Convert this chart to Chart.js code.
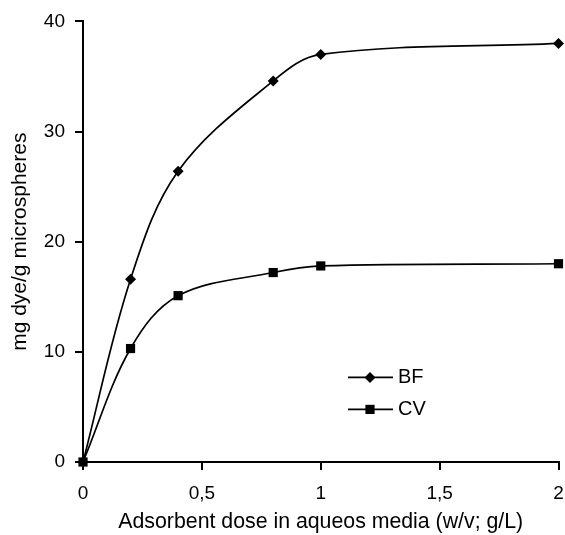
<!DOCTYPE html>
<html>
<head>
<meta charset="utf-8">
<script src="https://cdn.jsdelivr.net/npm/chart.js@4.4.1/dist/chart.umd.min.js"></script>
<style>
    html, body { margin: 0; padding: 0; background: #fff; }
    #wrap { width: 565px; height: 535px; }
</style>
</head>
<body>
<div id="wrap"><canvas id="myChart" width="565" height="535"></canvas></div>
<script>
// data
const doses = [0, 0.2, 0.4, 0.8, 1, 2]
const bfValues = [0, 16.6, 26.4, 34.6, 37.0, 38.0]
const cvValues = [0, 10.3, 15.1, 17.2, 17.8, 18.0]
const seriesNames = ['BF', 'CV']
const xTicks = [0, 0.5, 1, 1.5, 2]
const yTicks = [0, 10, 20, 30, 40]

const font = 'Liberation Sans, Arial, sans-serif'

function toPoints(xs, ys){
    return xs.map((x, i) => ({x: x, y: ys[i]}))
}

// line + marker legend inside the plot
const insideLegend = {
    id: 'insideLegend',
    afterDraw(chart){
        const ctx = chart.ctx
        const area = chart.chartArea
        const x0 = area.left + 265
        const rows = [area.top + 356, area.top + 388]
        ctx.save()
        chart.data.datasets.forEach((ds, i) => {
            const y = rows[i]
            ctx.strokeStyle = '#000'
            ctx.lineWidth = 1.7
            ctx.beginPath()
            ctx.moveTo(x0, y)
            ctx.lineTo(x0 + 45, y)
            ctx.stroke()
            ctx.fillStyle = '#000'
            ctx.beginPath()
            const cx = x0 + 22
            if (ds.pointStyle === 'rectRot') {
                const r = ds.pointRadius
                ctx.moveTo(cx - r, y)
                ctx.lineTo(cx, y - r)
                ctx.lineTo(cx + r, y)
                ctx.lineTo(cx, y + r)
                ctx.closePath()
            } else {
                const s = ds.pointRadius * Math.SQRT1_2
                ctx.rect(cx - s, y - s, 2 * s, 2 * s)
            }
            ctx.fill()
            ctx.font = '20px ' + font
            ctx.textBaseline = 'middle'
            ctx.textAlign = 'left'
            ctx.fillText(ds.label, x0 + 50, y)
        })
        ctx.restore()
    }
}

const ctx = document.getElementById('myChart').getContext('2d')
const myChart = new Chart(ctx, {
    type: 'line',
    data: {
        datasets: [{
            label: seriesNames[0],
            data: toPoints(doses, bfValues),
            borderColor: '#000',
            backgroundColor: '#000',
            borderWidth: 1.7,
            pointStyle: 'rectRot',
            pointRadius: 5.5,
            pointBorderWidth: 0,
            tension: 0.35,
            clip: false
        }, {
            label: seriesNames[1],
            data: toPoints(doses, cvValues),
            borderColor: '#000',
            backgroundColor: '#000',
            borderWidth: 1.7,
            pointStyle: 'rect',
            pointRadius: 6.5,
            pointBorderWidth: 0,
            tension: 0.35,
            clip: false
        }]
    },
    plugins: [insideLegend],
    options: {
        responsive: false,
        animation: false,
        layout: { padding: { top: 21, right: 0, left: 0, bottom: 0 } },
        plugins: {
            legend: { display: false },
            tooltip: { enabled: false }
        },
        scales: {
            x: {
                type: 'linear',
                min: 0,
                max: 2,
                afterFit(scale){
                    scale.height = 73
                    scale.paddingRight = 0
                },
                afterBuildTicks(scale){ scale.ticks = xTicks.map(v => ({value: v})) },
                border: { color: '#000', width: 2 },
                grid: { drawOnChartArea: false, color: '#000', tickLength: 8, lineWidth: 2 },
                ticks: {
                    color: '#000',
                    padding: 12,
                    maxRotation: 0,
                    font: { family: font, size: 19 },
                    callback: v => String(v).replace('.', ',')
                },
                title: {
                    display: true,
                    text: 'Adsorbent dose in aqueos media (w/v; g/L)',
                    color: '#000',
                    padding: 0,
                    font: { family: font, size: 21.3 }
                }
            },
            y: {
                min: 0,
                max: 40,
                afterFit(scale){ scale.width = 83 },
                afterBuildTicks(scale){ scale.ticks = yTicks.map(v => ({value: v})) },
                border: { color: '#000', width: 2 },
                grid: { drawOnChartArea: false, color: '#000', tickLength: 8, lineWidth: 2 },
                ticks: {
                    color: '#000',
                    padding: 10,
                    font: { family: font, size: 19 }
                },
                title: {
                    display: true,
                    text: 'mg dye/g microspheres',
                    color: '#000',
                    padding: 8,
                    font: { family: font, size: 21 }
                }
            }
        }
    }
})
</script>
</body>
</html>
